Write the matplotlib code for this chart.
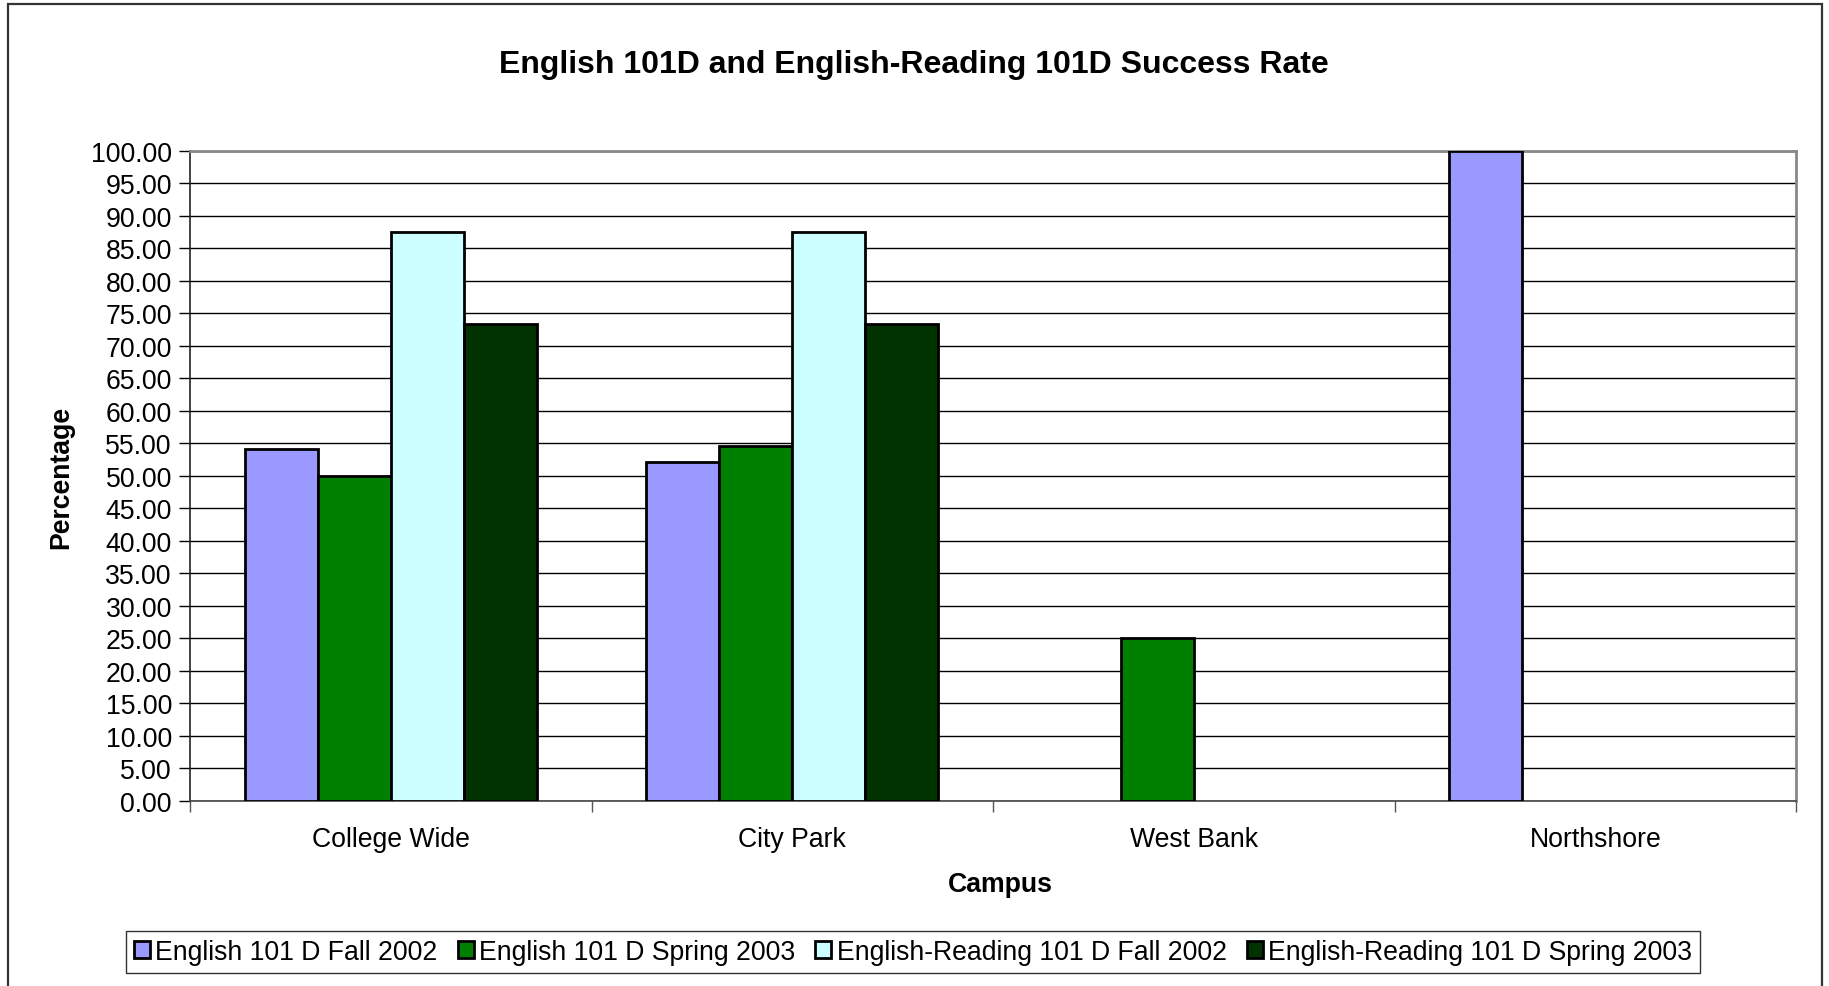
import numpy as np
import matplotlib
matplotlib.use("Agg")
import matplotlib.pyplot as plt
from matplotlib.patches import Rectangle

plt.rcParams['font.family'] = ['Liberation Sans', 'DejaVu Sans']

campuses = ["College Wide", "City Park", "West Bank", "Northshore"]
series_names = ["English 101 D Fall 2002", "English 101 D Spring 2003",
                "English-Reading 101 D Fall 2002", "English-Reading 101 D Spring 2003"]
# nan = no bar shown for that campus
eng_fall_2002 = [54.1, 52.1, np.nan, 100.0]
eng_spring_2003 = [50.0, 54.5, 25.0, np.nan]
read_fall_2002 = [87.5, 87.5, np.nan, np.nan]
read_spring_2003 = [73.3, 73.3, np.nan, np.nan]
colors = ["#9999FF", "#008000", "#CCFFFF", "#003300"]

W, H = 1829, 987
fs = 19.2
fig = plt.figure(figsize=(W / 100, H / 100), dpi=100)
ax = fig.add_axes([190 / W, 1 - 801.7 / H, (1796 - 190) / W, (801.7 - 151.7) / H])

# outer chart frame
fig.patches.append(Rectangle((8 / W, -0.01), (1822 - 8) / W, 1 - 5 / H + 0.01,
                             transform=fig.transFigure, fill=False,
                             edgecolor="#333333", linewidth=1.6))

x = np.arange(len(campuses))
bw = 0.182
all_series = [eng_fall_2002, eng_spring_2003, read_fall_2002, read_spring_2003]
for i, (vals, name, c) in enumerate(zip(all_series, series_names, colors)):
    ax.bar(x + (i - 1.5) * bw, vals, width=bw, color=c, edgecolor="black",
           linewidth=2.0, label=name, zorder=3)

ax.set_xlim(-0.5, 3.5)
ax.set_ylim(0, 100)
ax.set_yticks(np.arange(0, 101, 5))
ax.set_yticklabels(["%.2f" % v for v in np.arange(0, 101, 5)])
ax.yaxis.grid(True, color="black", linewidth=1.0, zorder=0)
ax.set_axisbelow(True)

ax.set_xticks(x)
ax.set_xticklabels(campuses)
ax.set_xticks(np.arange(-0.5, 4, 1), minor=True)
ax.tick_params(axis="x", which="major", length=0, pad=18, labelsize=fs)
ax.tick_params(axis="x", which="minor", length=8, width=1, color="#555555", direction="out")
ax.tick_params(axis="y", length=8, width=1, direction="out", pad=5, labelsize=fs)

for s in ["top", "right"]:
    ax.spines[s].set_color("#888888")
    ax.spines[s].set_linewidth(2)
ax.spines["left"].set_color("#222222")
ax.spines["bottom"].set_color("#444444")
ax.spines["left"].set_linewidth(1.2)
ax.spines["bottom"].set_linewidth(1.2)

fig.text(914 / W, 1 - 65 / H, "English 101D and English-Reading 101D Success Rate",
         fontsize=23, fontweight="bold", ha="center", va="center")
fig.text(1000 / W, 1 - 885 / H, "Campus", fontsize=fs, fontweight="bold",
         ha="center", va="center")
fig.text(61 / W, 1 - 477 / H, "Percentage", fontsize=fs, fontweight="bold",
         ha="center", va="center", rotation=90)

leg = fig.legend(loc="center", bbox_to_anchor=(913 / W, 1 - 953 / H), ncol=4,
                 fontsize=fs, frameon=True, fancybox=False, handlelength=0.6,
                 handleheight=0.6, handletextpad=0.2, columnspacing=0.75,
                 borderpad=0.3, borderaxespad=0)
leg.get_frame().set_edgecolor("black")
leg.get_frame().set_linewidth(1.0)

fig.savefig("out.png", dpi=100)
